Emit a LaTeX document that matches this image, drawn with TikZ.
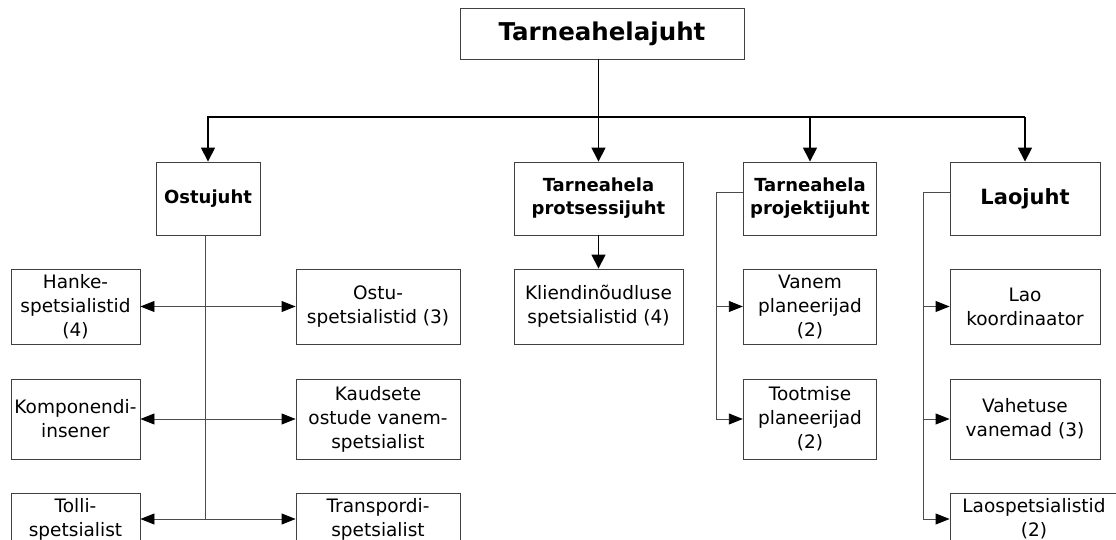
\documentclass[tikz,border=0pt]{standalone}
\usepackage{fontspec}
\setmainfont{DejaVu Sans}
\usetikzlibrary{arrows.meta}
\begin{document}
\begin{tikzpicture}[x=1pt,y=-1pt,
    box/.style={draw=black!75,line width=0.9pt,align=center,inner sep=1pt,
      font=\fontsize{18.5}{24}\selectfont,minimum height=75pt},
    head/.style={box,font=\bfseries\fontsize{18}{23}\selectfont,minimum height=73pt},
    main/.style={line width=1.6pt,-{Triangle[length=14pt,width=14pt]}},
    side/.style={draw=black!70,line width=0.9pt,-{Triangle[length=14pt,width=11pt,color=black]}}]
    \useasboundingbox (0,0) rectangle (1116,540);

    % the chief
    \node[box,font=\bfseries\fontsize{24.5}{28}\selectfont,minimum width=284pt,minimum height=51pt] (chief) at (602,33.5) {Tarneahelajuht};

    % the heads
    \node[head,minimum width=104pt] (ostu) at (208,198.5) {Ostujuht};
    \node[head,minimum width=169pt] (prots) at (598.5,198.5) {Tarneahela\\protsessijuht};
    \node[head,minimum width=133.5pt] (proj) at (810,198.5) {Tarneahela\\projektijuht};
    \node[head,font=\bfseries\fontsize{21}{25}\selectfont,minimum width=150pt] (lao) at (1025,198.5) {Laojuht};

    % first row
    \node[box,minimum width=129pt] (hanke) at (75.5,306.5) {Hanke-\\spetsialistid\\(4)};
    \node[box,minimum width=164pt] (ostusp) at (378,306.5) {Ostu-\\spetsialistid (3)};
    \node[box,minimum width=169pt] (kliendi) at (598.5,306.5) {Kliendinõudluse\\spetsialistid (4)};
    \node[box,minimum width=133.5pt] (vanem) at (810,306.5) {Vanem\\planeerijad\\(2)};
    \node[box,minimum width=150pt] (laokoord) at (1025,306.5) {Lao\\koordinaator};

    % second row
    \node[box,minimum width=129pt,minimum height=80pt] (komp) at (75.5,419) {Komponendi-\\insener};
    \node[box,minimum width=164pt,minimum height=80pt] (kaud) at (378,419) {Kaudsete\\ostude vanem-\\spetsialist};
    \node[box,minimum width=133.5pt,minimum height=80pt] (toot) at (810,419) {Tootmise\\planeerijad\\(2)};
    \node[box,minimum width=150pt,minimum height=80pt] (vahet) at (1025,419) {Vahetuse\\vanemad (3)};

    % third row
    \node[box,minimum width=129pt,minimum height=52pt] (tolli) at (75.5,519) {Tolli-\\spetsialist};
    \node[box,minimum width=164pt,minimum height=52pt] (transp) at (378,519) {Transpordi-\\spetsialist};
    \node[box,minimum width=168pt,minimum height=52pt] (laosp) at (1034,519) {Laospetsialistid\\(2)};

    % main arrows
    \coordinate (bar) at (0,117);
    \draw[main] (chief.south -| prots.north) -- (prots.north);
    \draw[main] (bar -| lao.north) -- (bar -| ostu.north) -- (ostu.north);
    \foreach \n in {proj,lao}
        \draw[main] (bar -| \n.north) -- (\n.north);
    \draw[main] (prots.south) -- (kliendi.north);

    % purchasing staff
    \coordinate (osbus) at ([xshift=-3pt]ostu.south);
    \draw[side,-] (osbus) -- (osbus |- tolli.east);
    \foreach \n in {hanke,komp,tolli}
        \draw[side] (osbus |- \n.east) -- (\n.east);
    \foreach \n in {ostusp,kaud,transp}
        \draw[side] (osbus |- \n.west) -- (\n.west);

    % planners
    \coordinate (pjbus) at ([xshift=-26pt,yshift=6pt]proj.west);
    \draw[side] ([yshift=6pt]proj.west) -- (pjbus) |- (toot.west);
    \draw[side] (pjbus |- vanem.west) -- (vanem.west);

    % warehouse staff
    \coordinate (lobus) at ([xshift=-26pt,yshift=6pt]lao.west);
    \draw[side] ([yshift=6pt]lao.west) -- (lobus) |- (laosp.west);
    \foreach \n in {laokoord,vahet}
        \draw[side] (lobus |- \n.west) -- (\n.west);
\end{tikzpicture}
\end{document}
